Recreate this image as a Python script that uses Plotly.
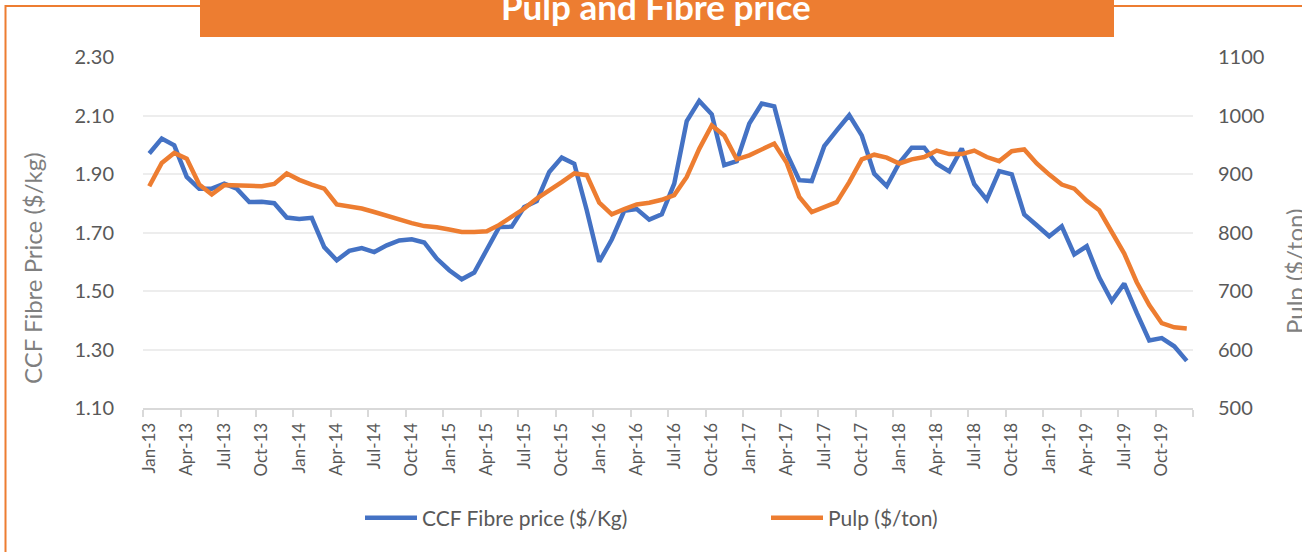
import plotly.graph_objects as go

# ---- data ----
month_names = ["Jan", "Feb", "Mar", "Apr", "May", "Jun",
               "Jul", "Aug", "Sep", "Oct", "Nov", "Dec"]
years = ["13", "14", "15", "16", "17", "18", "19"]
categories = [f"{m}-{y}" for y in years for m in month_names]

ccf_fibre = [
    1.970, 2.021, 1.998, 1.890, 1.850, 1.850, 1.867, 1.850, 1.804, 1.805, 1.800, 1.751,
    1.746, 1.750, 1.650, 1.605, 1.637, 1.647, 1.633, 1.656, 1.673, 1.677, 1.666, 1.611,
    1.571, 1.540, 1.563, 1.645, 1.719, 1.720, 1.787, 1.807, 1.907, 1.956, 1.935, 1.776,
    1.600, 1.676, 1.774, 1.780, 1.744, 1.762, 1.867, 2.081, 2.150, 2.104, 1.930, 1.944,
    2.072, 2.141, 2.131, 1.970, 1.879, 1.876, 1.995, 2.049, 2.101, 2.032, 1.901, 1.859,
    1.938, 1.990, 1.990, 1.935, 1.909, 1.987, 1.865, 1.812, 1.910, 1.899, 1.762, 1.725,
    1.687, 1.721, 1.625, 1.653, 1.546, 1.466, 1.525, 1.425, 1.331, 1.339, 1.311, 1.261,
]

pulp = [
    879, 919, 936, 926, 882, 865, 881, 881, 880, 879, 883, 901,
    890, 882, 875, 848, 844, 841, 835, 828, 823, 816, 811, 809,
    805, 801, 801, 802, 813, 826, 841, 858, 871, 886, 901, 898,
    851, 831, 840, 848, 851, 856, 864, 895, 943, 983, 966, 925,
    932, 942, 952, 919, 861, 835, 843, 852, 886, 925, 933, 928,
    918, 925, 929, 940, 934, 934, 940, 929, 922, 939, 942, 918,
    899, 882, 875, 854, 838, 801, 764, 715, 676, 645, 638, 636,
]

tick_labels = [
    "Jan-13", "Apr-13", "Jul-13", "Oct-13", "Jan-14", "Apr-14", "Jul-14", "Oct-14",
    "Jan-15", "Apr-15", "Jul-15", "Oct-15", "Jan-16", "Apr-16", "Jul-16", "Oct-16",
    "Jan-17", "Apr-17", "Jul-17", "Oct-17", "Jan-18", "Apr-18", "Jul-18", "Oct-18",
    "Jan-19", "Apr-19", "Jul-19", "Oct-19",
]
left_ticks = [1.10, 1.30, 1.50, 1.70, 1.90, 2.10, 2.30]
right_ticks = [500, 600, 700, 800, 900, 1000, 1100]

# ---- layout constants ----
W, H = 1302, 552
ML, MR, MT, MB = 143, 109, 57, 144
PW = W - ML - MR
PH = H - MT - MB

def px(x):
    return (x - ML) / PW

def py(y):
    return (H - MB - y) / PH

BLUE = "#4472C4"
ORANGE = "#ED7D31"
GRID = "#EDEDED"
TICK = "#595959"
TITLE_GRAY = "#7F7F7F"
FONT = "Lato"

xidx = list(range(len(categories)))
tick_pos = [categories.index(t) for t in tick_labels]

fig = go.Figure()
fig.add_trace(go.Scatter(
    x=xidx, y=ccf_fibre, name="CCF Fibre price ($/Kg)", mode="lines",
    line=dict(color=BLUE, width=4.5), customdata=categories,
    hovertemplate="%{customdata}: %{y:.2f}<extra></extra>",
))
fig.add_trace(go.Scatter(
    x=xidx, y=pulp, name="Pulp ($/ton)", mode="lines", yaxis="y2",
    line=dict(color=ORANGE, width=4.5), customdata=categories,
    hovertemplate="%{customdata}: %{y}<extra></extra>",
))

fig.update_layout(
    width=W, height=H,
    margin=dict(l=ML, r=MR, t=MT, b=MB, autoexpand=False),
    paper_bgcolor="white", plot_bgcolor="white",
    font=dict(family=FONT, color=TICK),
    showlegend=True,
    legend=dict(
        orientation="h", x=px(360), xanchor="left", y=py(518), yanchor="middle",
        font=dict(family=FONT, size=21, color=TICK), entrywidth=339,
        entrywidthmode="pixels", itemwidth=52, bgcolor="rgba(0,0,0,0)",
    ),
    xaxis=dict(
        range=[-0.5, len(categories) - 0.5],
        tickmode="array", tickvals=tick_pos, ticktext=tick_labels,
        tickangle=-90, ticks="", ticklabelstandoff=6,
        tickfont=dict(family=FONT, size=17, color=TICK),
        showgrid=False, zeroline=False,
        showline=True, linecolor="#D9D9D9", linewidth=2,
        minor=dict(tick0=-0.5, dtick=3, ticks="outside", ticklen=7,
                   tickcolor="#D9D9D9", tickwidth=2, showgrid=False),
    ),
    yaxis=dict(
        range=[1.10, 2.30], tickmode="array", tickvals=left_ticks,
        ticktext=[f"{v:.2f}" for v in left_ticks],
        tickfont=dict(family=FONT, size=20, color=TICK),
        ticklabelstandoff=28,
        showgrid=True, gridcolor=GRID, gridwidth=1.5,
        zeroline=False, showline=False, ticks="",
    ),
    yaxis2=dict(
        range=[500, 1100], overlaying="y", side="right",
        tickmode="array", tickvals=right_ticks,
        tickfont=dict(family=FONT, size=20, color=TICK),
        ticklabelstandoff=24,
        showgrid=False, zeroline=False, showline=False, ticks="",
    ),
)

# frame and title banner
fig.add_shape(type="rect", xref="paper", yref="paper",
              x0=px(5.5), x1=px(1320), y0=py(570), y1=py(6),
              line=dict(color=ORANGE, width=2), fillcolor="rgba(0,0,0,0)",
              layer="below")
fig.add_shape(type="rect", xref="paper", yref="paper",
              x0=px(200), x1=px(1114), y0=py(37), y1=py(-10),
              line=dict(width=0), fillcolor=ORANGE, layer="above")
fig.add_annotation(text="<b>Pulp and Fibre price</b>", xref="paper", yref="paper",
                   x=px(656), y=py(6), xanchor="center", yanchor="middle",
                   showarrow=False, font=dict(family=FONT, size=35, color="white"))

# axis titles
fig.add_annotation(text="CCF Fibre Price ($/kg)", xref="paper", yref="paper",
                   x=px(32), y=py(268), textangle=-90, showarrow=False,
                   xanchor="center", yanchor="middle",
                   font=dict(family=FONT, size=24, color=TITLE_GRAY))
fig.add_annotation(text="Pulp ($/ton)", xref="paper", yref="paper",
                   x=px(1294), y=py(272), textangle=-90, showarrow=False,
                   xanchor="center", yanchor="middle",
                   font=dict(family=FONT, size=24, color=TITLE_GRAY))

fig.write_html("out.html", config={"displayModeBar": False},
               post_script="document.body.style.margin='0px';")
